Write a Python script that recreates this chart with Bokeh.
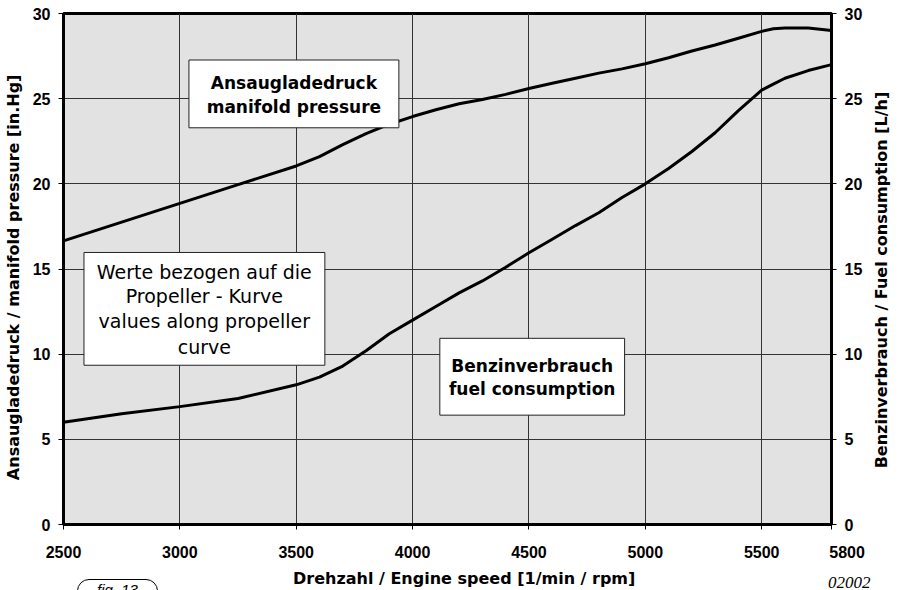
from bokeh.plotting import figure
from bokeh.models import Range1d, LinearAxis, FixedTicker, Label, BoxAnnotation, Div
from bokeh.layouts import column
from bokeh.embed import file_html
from bokeh.resources import INLINE

# ---- data ----
rpm = [2500, 2750, 3000, 3250, 3500, 3600, 3700, 3800, 3900, 4000, 4100, 4200,
       4300, 4400, 4500, 4600, 4700, 4800, 4900, 5000, 5100, 5200, 5300, 5400,
       5500, 5550, 5600, 5700, 5800]
manifold_pressure = [16.65, 17.75, 18.85, 19.95, 21.05, 21.6, 22.3, 22.95, 23.5, 23.95,
                     24.35, 24.7, 24.95, 25.25, 25.6, 25.9, 26.2, 26.5, 26.75, 27.05,
                     27.4, 27.8, 28.15, 28.55, 28.95, 29.1, 29.15, 29.15, 29.0]
fuel_consumption = [6.0, 6.5, 6.92, 7.4, 8.2, 8.65, 9.3, 10.2, 11.2, 12.0,
                    12.8, 13.6, 14.3, 15.1, 15.95, 16.75, 17.55, 18.3, 19.2, 20.0,
                    20.9, 21.9, 23.0, 24.3, 25.5, 25.85, 26.2, 26.65, 27.0]
x_ticks = [2500, 3000, 3500, 4000, 4500, 5000, 5500, 5800]
y_ticks = [0, 5, 10, 15, 20, 25, 30]
grid_x = [2500, 3000, 3500, 4000, 4500, 5000, 5500]
right_axis_title = "Benzinverbrauch / Fuel consumption [L/h]"

FONT = "Liberation Sans"
WIDE = "DejaVu Sans"
NB = "\u00a0"
ZW = "\u200b"

p = figure(width=901, height=590, x_range=Range1d(2500, 5800), y_range=Range1d(0, 30),
           output_backend="svg", toolbar_location=None,
           min_border_left=62, min_border_right=70, min_border_top=13, min_border_bottom=64)
p.extra_y_ranges = {"fuel": Range1d(0, 30)}

p.background_fill_color = "#e2e2e2"
p.border_fill_color = "white"
p.outline_line_color = "black"
p.outline_line_width = 3

# axes
p.xaxis.ticker = FixedTicker(ticks=x_ticks)
p.xaxis.major_label_overrides = {5800: NB * 7 + "5800"}
p.yaxis.ticker = FixedTicker(ticks=y_ticks)
p.xaxis.axis_label = NB * 6 + "Drehzahl / Engine speed [1/min / rpm]"
p.yaxis.axis_label = "Ansaugladedruck / manifold pressure [in.Hg]" + NB * 3 + ZW

right = LinearAxis(y_range_name="fuel", ticker=FixedTicker(ticks=y_ticks))
p.add_layout(right, "right")

for ax in [p.xaxis[0], p.yaxis[0], right]:
    ax.axis_line_color = "black"
    ax.axis_line_width = 3
    ax.major_tick_in = 0
    ax.major_tick_out = 5
    ax.major_tick_line_color = "black"
    ax.minor_tick_line_color = None
    ax.major_label_text_font = FONT
    ax.major_label_text_font_style = "bold"
    ax.major_label_text_font_size = "16px"
    ax.major_label_text_color = "black"
    ax.axis_label_text_font = WIDE
    ax.axis_label_text_font_style = "bold"
    ax.axis_label_text_font_size = "16px"
    ax.axis_label_text_color = "black"

p.xaxis.major_label_standoff = 14
p.xaxis.axis_label_standoff = 5
p.yaxis.major_label_standoff = 8
p.yaxis.axis_label_standoff = 7
right.major_label_standoff = 8

p.xgrid.ticker = FixedTicker(ticks=grid_x)
p.ygrid.ticker = FixedTicker(ticks=y_ticks)
p.grid.grid_line_color = "#333333"
p.grid.grid_line_width = 1

# curves
p.line(rpm, manifold_pressure, line_color="black", line_width=3)
p.line(rpm, fuel_consumption, line_color="black", line_width=3, y_range_name="fuel")

# annotation boxes
def box(l, r, t, b):
    p.add_layout(BoxAnnotation(left=l, right=r, top=t, bottom=b, fill_color="white",
                               fill_alpha=1, line_color="#222222", line_width=1,
                               line_alpha=1))

def text_line(x, y, s, size, bold):
    p.add_layout(Label(x=x, y=y, text=s, text_align="center", text_baseline="middle",
                       text_font=WIDE, text_font_style="bold" if bold else "normal",
                       text_font_size=size, text_color="black"))

box(3039, 3941, 27.27, 23.29)
text_line(3490, 25.93, "Ansaugladedruck", "17px", True)
text_line(3490, 24.52, "manifold pressure", "17px", True)

box(2588, 3623, 15.97, 9.35)
for yy, s in zip([14.85, 13.39, 11.92, 10.40],
                 ["Werte bezogen auf die", "Propeller - Kurve",
                  "values along propeller", "curve"]):
    text_line(3105, yy, s, "19px", False)

box(4117, 4911, 10.93, 6.42)
text_line(4514, 9.29, "Benzinverbrauch", "17px", True)
text_line(4514, 7.94, "fuel consumption", "17px", True)

# floating HTML elements: right axis title (reads bottom-to-top), caption, id
right_title_div = Div(
    text=("<div style=\"font-family:'DejaVu Sans';font-weight:bold;font-size:16px;"
          'line-height:19px;color:#000;white-space:nowrap">' + right_axis_title + "</div>"),
    styles={"position": "absolute", "left": "882px", "top": "280px",
            "transform": "translate(-50%, -50%) rotate(-90deg)", "z-index": "10"},
    margin=0)
fig_div = Div(
    text=('<div style="border:1px solid #000;border-radius:12px;padding:1px 19px 4px 19px;'
          "font-family:'Liberation Sans';font-style:italic;font-size:15px;line-height:17px;"
          'color:#000;background:#fff;white-space:nowrap">fig. 13</div>'),
    styles={"position": "absolute", "left": "77px", "top": "579px", "z-index": "10"},
    margin=0)
id_div = Div(
    text=("<div style=\"font-family:'Liberation Serif';font-style:italic;font-size:17px;"
          'line-height:17px;color:#000;white-space:nowrap">02002</div>'),
    styles={"position": "absolute", "left": "828px", "top": "574px", "z-index": "10"},
    margin=0)

root = p
try:
    p.elements = [right_title_div, fig_div, id_div]
except Exception:
    root = column(p, right_title_div, fig_div, id_div)

open("out.html", "w").write(file_html(root, INLINE))
